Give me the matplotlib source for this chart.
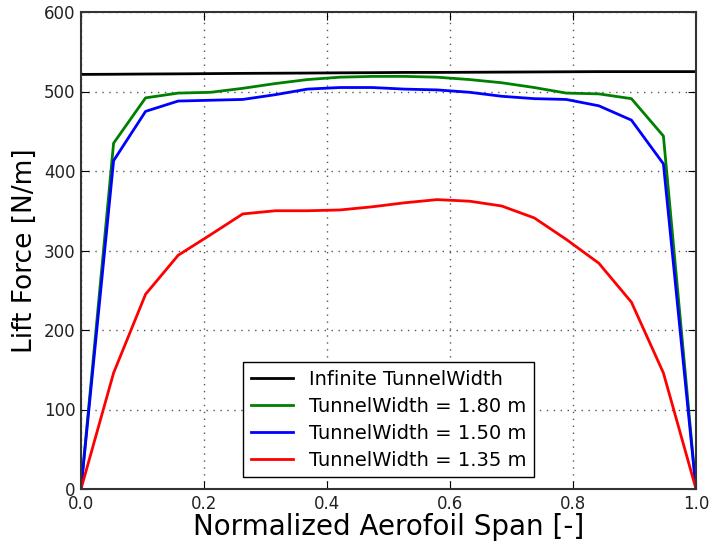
import numpy as np
import matplotlib
matplotlib.use('Agg')
import matplotlib.pyplot as plt

# span positions (20 stations)
span = [0.0, 0.053, 0.105, 0.158, 0.211, 0.263, 0.316, 0.368, 0.421, 0.474,
        0.526, 0.579, 0.632, 0.684, 0.737, 0.789, 0.842, 0.895, 0.947, 1.0]

lift_inf = [521.5, 521.7, 522.0, 522.2, 522.5, 522.8, 523.0, 523.2, 523.5, 523.7,
            524.0, 524.0, 524.2, 524.4, 524.6, 524.8, 525.0, 525.0, 525.0, 525.0]
lift_180 = [0, 435, 492, 498, 499, 504, 510, 515, 518, 519,
            519, 518, 515, 511, 505, 498, 497, 491, 444, 0]
lift_150 = [0, 413, 475, 488, 489, 490, 496, 503, 505, 505,
            503, 502, 499, 494, 491, 490, 482, 464, 409, 0]
lift_135 = [0, 146, 245, 294, 320, 346, 350, 350, 351, 355,
            360, 364, 362, 356, 341, 314, 284, 235, 146, 0]

labels = ['Infinite TunnelWidth', 'TunnelWidth = 1.80 m',
          'TunnelWidth = 1.50 m', 'TunnelWidth = 1.35 m']

fig = plt.figure(figsize=(7.12, 5.46), dpi=100)
ax = fig.add_axes([81/712, 1 - 489/546, (696 - 81)/712, (489 - 12)/546])

ax.plot(span, lift_inf, c='black', lw=2, label=labels[0])
ax.plot(span, lift_180, c='green', lw=2, label=labels[1])
ax.plot(span, lift_150, c='blue', lw=2, label=labels[2])
ax.plot(span, lift_135, c='red', lw=2, label=labels[3])

ax.set_xlim(0, 1)
ax.set_ylim(0, 600)
ax.set_xticks([0.0, 0.2, 0.4, 0.6, 0.8, 1.0])
ax.set_yticks(np.arange(0, 601, 100))
ax.grid(True, ls=(0, (1, 4)), c='#555555', lw=1)
ax.tick_params(direction='in', top=True, right=True, length=6, labelsize=12,
               pad=4, labelcolor='#222222')
for s in ax.spines.values():
    s.set_linewidth(1.5)
    s.set_color('#333333')

ax.set_xlabel('Normalized Aerofoil Span [-]', fontsize=20, labelpad=0)
ax.set_ylabel('Lift Force [N/m]', fontsize=19, labelpad=4)

leg = ax.legend(loc='lower center', fontsize=14, fancybox=False, framealpha=1,
                borderaxespad=0.6, handlelength=2.2, labelspacing=0.4)
leg.get_frame().set_edgecolor('black')

fig.savefig('out.png', dpi=100)
